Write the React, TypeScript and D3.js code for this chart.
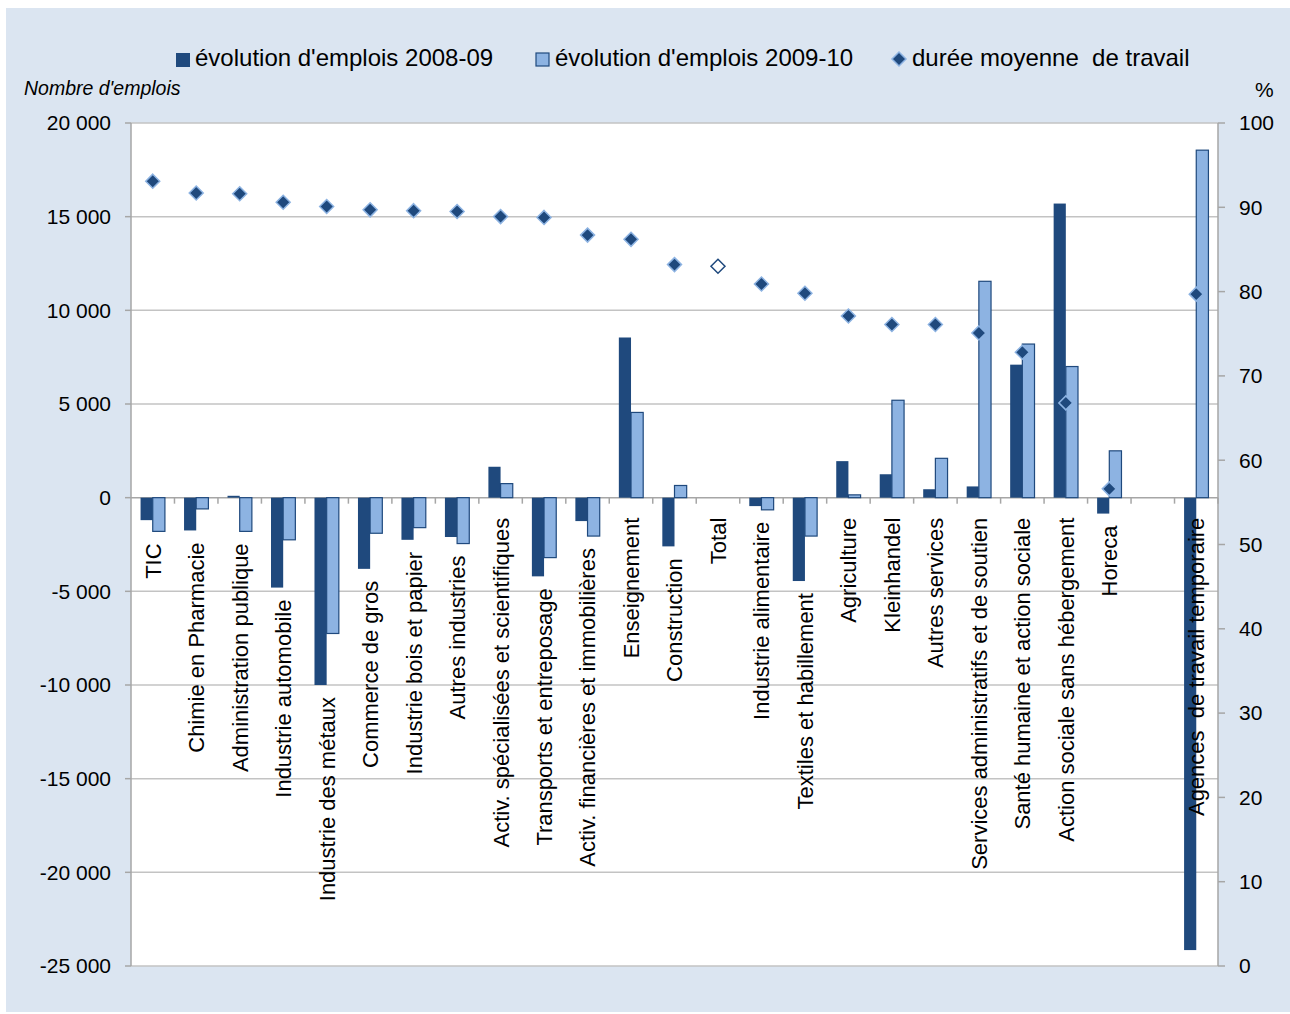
import React from "react";
import * as d3 from "d3";

const categories = [
  "TIC",
  "Chimie en Pharmacie",
  "Administration publique",
  "Industrie automobile",
  "Industrie des métaux",
  "Commerce de gros",
  "Industrie bois et papier",
  "Autres industries",
  "Activ. spécialisées et scientifiques",
  "Transports et entreposage",
  "Activ. financières et immobilières",
  "Enseignement",
  "Construction",
  "Total",
  "Industrie alimentaire",
  "Textiles et habillement",
  "Agriculture",
  "Kleinhandel",
  "Autres services",
  "Services administratifs et de soutien",
  "Santé humaine et action sociale",
  "Action sociale sans hébergement",
  "Horeca",
  "",
  "Agences  de travail temporaire",
];

const emplois0809: (number | null)[] = [
  -1200, -1750, 100, -4800, -10000, -3800, -2250, -2100, 1650, -4200, -1250, 8550,
  -2600, null, -450, -4450, 1950, 1250, 450, 600, 7100, 15700, -850, null, -24150,
];

const emplois0910: (number | null)[] = [
  -1800, -600, -1800, -2250, -7250, -1900, -1600, -2450, 750, -3200, -2050, 4550,
  650, null, -650, -2050, 150, 5200, 2100, 11550, 8200, 7000, 2500, null, 18550,
];

const duree: (number | null)[] = [
  93.1, 91.7, 91.6, 90.6, 90.1, 89.7, 89.6, 89.5, 88.9, 88.8, 86.7, 86.2, 83.2,
  83.0, 80.9, 79.8, 77.1, 76.1, 76.1, 75.1, 72.8, 66.8, 56.6, null, 79.7,
];

const highlightCategory = "Total";

const leftTicks = [20000, 15000, 10000, 5000, 0, -5000, -10000, -15000, -20000, -25000];
const rightTicks = [100, 90, 80, 70, 60, 50, 40, 30, 20, 10, 0];

const seriesNames = [
  "évolution d'emplois 2008-09",
  "évolution d'emplois 2009-10",
  "durée moyenne  de travail",
];

const DARK = "#1f497d";
const LIGHT = "#8db3e2";
const BG = "#dbe5f1";
const GRID = "#c3c3c3";
const AXIS = "#a6a6a6";
const FONT = "'Liberation Sans', Arial, sans-serif";

const W = 1290;
const H = 1014;
const PL = 131;
const PR = 1218;
const PT = 123;
const PB = 966;

function fmt(v: number) {
  const s = Math.abs(v).toString();
  const grouped = s.replace(/\B(?=(\d{3})+(?!\d))/g, " ");
  return (v < 0 ? "-" : "") + grouped;
}

export default function App() {
  const x = d3.scaleBand<string>().domain(categories).range([PL, PR]).padding(0);
  const yL = d3.scaleLinear().domain([-25000, 20000]).range([PB, PT]);
  const yR = d3.scaleLinear().domain([0, 100]).range([PB, PT]);
  const bw = x.bandwidth() * 0.28;
  const x1 = d3
    .scaleBand<string>()
    .domain(["a", "b"])
    .range([-bw, bw])
    .padding(0);
  const zeroY = yL(0);
  const diamondPath = (s: number) => `M0,${-s}L${s},0L0,${s}L${-s},0Z`;

  return (
    <svg
      width={W}
      height={H}
      style={{ position: "absolute", left: 0, top: 0, fontFamily: FONT }}
    >
      <rect x={6} y={8} width={W - 6} height={H - 10} fill={BG} />
      <rect x={PL} y={PT} width={PR - PL} height={PB - PT} fill="#ffffff" />

      {leftTicks.map((t) => (
        <line
          key={"g" + t}
          x1={PL}
          x2={PR}
          y1={yL(t)}
          y2={yL(t)}
          stroke={t === 0 ? AXIS : GRID}
          strokeWidth={1.5}
        />
      ))}

      <line x1={PL} x2={PL} y1={PT} y2={PB} stroke={AXIS} strokeWidth={1.5} />
      <line x1={PR} x2={PR} y1={PT} y2={PB} stroke={AXIS} strokeWidth={1.5} />

      {leftTicks.map((t) => (
        <g key={"lt" + t}>
          <line x1={PL - 6} x2={PL} y1={yL(t)} y2={yL(t)} stroke={AXIS} strokeWidth={1.5} />
          <text x={111} y={yL(t)} dy="0.35em" textAnchor="end" fontSize={21} fill="#000">
            {fmt(t)}
          </text>
        </g>
      ))}

      {rightTicks.map((t) => (
        <g key={"rt" + t}>
          <line x1={PR} x2={PR + 7} y1={yR(t)} y2={yR(t)} stroke={AXIS} strokeWidth={1.5} />
          <text x={1239} y={yR(t)} dy="0.35em" textAnchor="start" fontSize={21} fill="#000">
            {t}
          </text>
        </g>
      ))}

      {categories.map((c, i) => (
        <line
          key={"ct" + i}
          x1={(x(c) as number) + x.bandwidth()}
          x2={(x(c) as number) + x.bandwidth()}
          y1={zeroY}
          y2={zeroY + 6}
          stroke={AXIS}
          strokeWidth={1.5}
        />
      ))}

      {categories.map((c, i) => {
        const cx = (x(c) as number) + x.bandwidth() / 2;
        const v1 = emplois0809[i];
        const v2 = emplois0910[i];
        return (
          <g key={"b" + i}>
            {v1 !== null && (
              <rect
                x={cx + (x1("a") as number)}
                y={Math.min(yL(v1), zeroY)}
                width={x1.bandwidth()}
                height={Math.abs(yL(v1) - zeroY)}
                fill={DARK}
              />
            )}
            {v2 !== null && (
              <rect
                x={cx + (x1("b") as number)}
                y={Math.min(yL(v2), zeroY)}
                width={x1.bandwidth()}
                height={Math.abs(yL(v2) - zeroY)}
                fill={LIGHT}
                stroke={DARK}
                strokeWidth={1.2}
              />
            )}
          </g>
        );
      })}

      {categories.map((c, i) => {
        const cx = (x(c) as number) + x.bandwidth() / 2;
        const vals = [emplois0809[i], emplois0910[i]].filter((v) => v !== null) as number[];
        const minV = vals.length ? Math.min(0, ...vals) : 0;
        let top = Math.max(zeroY + 20, yL(minV) + 12);
        if (minV < -15000) top = zeroY + 20;
        return (
          <text
            key={"cl" + i}
            transform={`translate(${cx},${top}) rotate(-90)`}
            textAnchor="end"
            dy="0.36em"
            fontSize={22}
            fill="#000"
            style={{ whiteSpace: "pre" }}
          >
            {c}
          </text>
        );
      })}

      {categories.map((c, i) => {
        const v = duree[i];
        if (v === null) return null;
        const cx = (x(c) as number) + x.bandwidth() / 2;
        const hl = c === highlightCategory;
        return (
          <path
            key={"d" + i}
            d={diamondPath(7)}
            transform={`translate(${cx},${yR(v)})`}
            fill={hl ? "#ffffff" : DARK}
            stroke={hl ? DARK : LIGHT}
            strokeWidth={1.5}
          />
        );
      })}

      <text x={24} y={95} fontSize={19.5} fontStyle="italic" fill="#000">
        Nombre d'emplois
      </text>
      <text x={1255} y={97} fontSize={21} fill="#000">
        %
      </text>

      <rect x={176} y={53} width={14} height={14} fill={DARK} />
      <text x={195} y={66} fontSize={24} fill="#000">
        {seriesNames[0]}
      </text>
      <rect x={536} y={53} width={13} height={13} fill={LIGHT} stroke={DARK} strokeWidth={1.2} />
      <text x={555} y={66} fontSize={24} fill="#000">
        {seriesNames[1]}
      </text>
      <path d={diamondPath(7)} transform="translate(899,59)" fill={DARK} stroke={LIGHT} strokeWidth={1.5} />
      <text x={912} y={66} fontSize={24} fill="#000" style={{ whiteSpace: "pre" }}>
        {seriesNames[2]}
      </text>
    </svg>
  );
}
